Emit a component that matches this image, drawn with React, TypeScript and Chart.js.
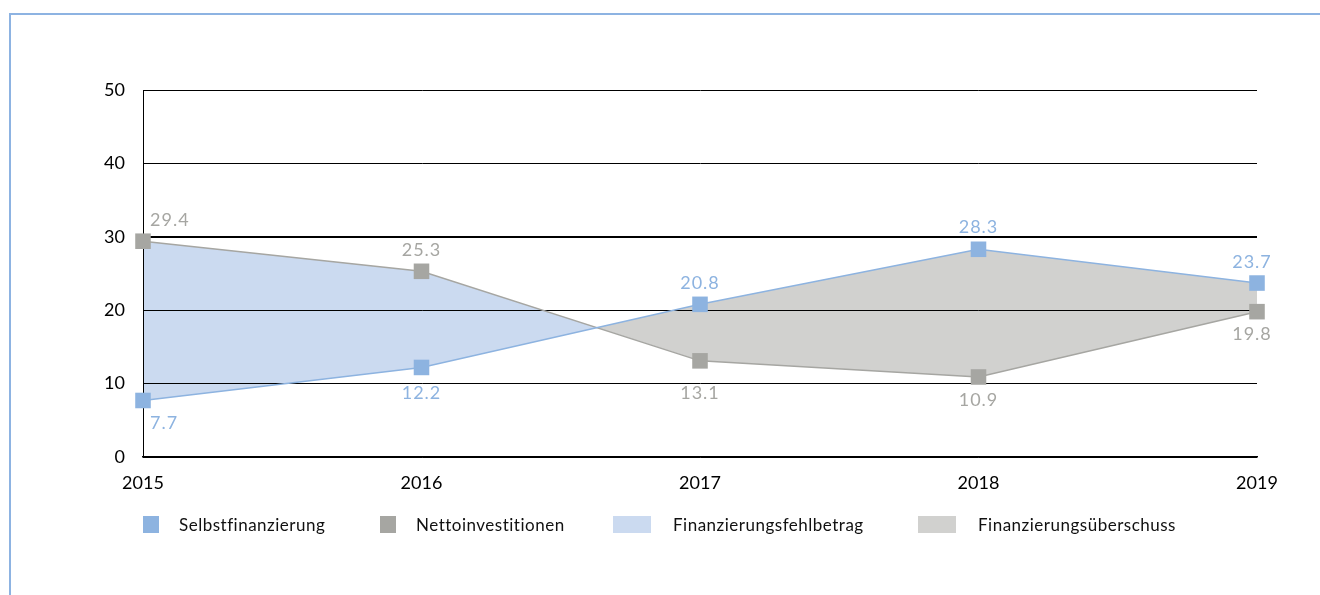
import React, { useEffect, useRef } from "react";
import { Chart, registerables } from "chart.js";

Chart.register(...registerables);

const years = ["2015", "2016", "2017", "2018", "2019"];
const selbstfinanzierung = [7.7, 12.2, 20.8, 28.3, 23.7];
const nettoinvestitionen = [29.4, 25.3, 13.1, 10.9, 19.8];
const yMin = 0;
const yMax = 50;
const yStep = 10;
const seriesNames = ["Selbstfinanzierung", "Nettoinvestitionen"];
const areaNames = ["Finanzierungsfehlbetrag", "Finanzierungsüberschuss"];

const BLUE = "#8db3e0";
const GRAY = "#a6a6a2";
const BLUE_FILL = "#cbdaf0";
const GRAY_FILL = "#d1d1cf";
const FONT = "Lato";

const valueLabels = {
  id: "valueLabels",
  afterDatasetsDraw(chart: any) {
    const ctx = chart.ctx;
    const yScale = chart.scales.y;
    const gridYs = yScale.ticks.map((t: any) => yScale.getPixelForValue(t.value));
    ctx.save();
    ctx.font = `18px ${FONT}`;
    try { (ctx as any).letterSpacing = "1px"; } catch (e) {}
    ctx.textBaseline = "middle";
    const colors = [BLUE, GRAY];
    [0, 1].forEach((di) => {
      const meta = chart.getDatasetMeta(di);
      const vals = chart.data.datasets[di].data as number[];
      const other = chart.data.datasets[1 - di].data as number[];
      meta.data.forEach((pt: any, i: number) => {
        const above = vals[i] >= other[i];
        let x = pt.x;
        let align = "center";
        if (i === 0) {
          align = "left";
          x += 7;
        } else if (i === vals.length - 1) {
          x -= 5;
        }
        let y = pt.y + (above ? -21 : 23);
        const near = gridYs.find((g: number) => Math.abs(g - y) < 10);
        if (near !== undefined) {
          y = above ? near - 10 : near + 10;
        }
        ctx.fillStyle = colors[di];
        ctx.textAlign = align;
        ctx.fillText(vals[i].toFixed(1), x, y);
      });
    });
    ctx.restore();
  },
};

export default function App() {
  const ref = useRef<HTMLCanvasElement | null>(null);

  useEffect(() => {
    if (!ref.current) return;
    const chart = new Chart(ref.current, {
      type: "line",
      data: {
        labels: years,
        datasets: [
          {
            label: seriesNames[0],
            data: selbstfinanzierung,
            borderColor: BLUE,
            backgroundColor: BLUE,
            borderWidth: 1.5,
            pointStyle: "rect",
            pointRadius: 11,
            pointBorderWidth: 0,
            pointBackgroundColor: BLUE,
            tension: 0,
            fill: { target: 1, above: GRAY_FILL, below: BLUE_FILL },
          },
          {
            label: seriesNames[1],
            data: nettoinvestitionen,
            borderColor: GRAY,
            backgroundColor: GRAY,
            borderWidth: 1.5,
            pointStyle: "rect",
            pointRadius: 11,
            pointBorderWidth: 0,
            pointBackgroundColor: GRAY,
            tension: 0,
            fill: false,
          },
        ],
      },
      options: {
        animation: false,
        responsive: false,
        layout: { padding: { left: 0, top: 90, right: 63, bottom: 98 } },
        plugins: {
          legend: { display: false },
          tooltip: { enabled: false },
          filler: { drawTime: "beforeDraw" },
        } as any,
        scales: {
          x: {
            offset: false,
            grid: { display: false, drawTicks: false },
            border: { display: true, color: "#000", width: 1.5 },
            ticks: {
              color: "#000",
              font: { family: FONT, size: 18 },
              padding: 15,
              maxRotation: 0,
            },
            afterFit: (s: any) => {
              s.height = 40;
            },
          },
          y: {
            min: yMin,
            max: yMax,
            grid: {
              color: "#000",
              lineWidth: (c: any) => (c.tick && c.tick.value === 30 ? 2 : 1),
              drawTicks: false,
            },
            border: { display: true, color: "#000", width: 1 },
            ticks: {
              stepSize: yStep,
              color: "#000",
              font: { family: FONT, size: 18 },
              padding: 18,
            },
            afterFit: (s: any) => {
              s.width = 143;
            },
          },
        },
      },
      plugins: [valueLabels],
    });
    return () => chart.destroy();
  }, []);

  const legendItems = [
    { name: seriesNames[0], color: BLUE, w: 16, left: 143 },
    { name: seriesNames[1], color: GRAY, w: 16, left: 380 },
    { name: areaNames[0], color: BLUE_FILL, w: 38, left: 613 },
    { name: areaNames[1], color: GRAY_FILL, w: 38, left: 918 },
  ];

  return (
    <div style={{ position: "fixed", left: 0, top: 0, width: 1320, height: 595, background: "#fff", overflow: "hidden" }}>
      <div
        style={{
          position: "absolute",
          left: 9,
          top: 13,
          right: 0,
          bottom: 0,
          borderLeft: "2px solid #8db3e2",
          borderTop: "2px solid #8db3e2",
        }}
      />
      <canvas ref={ref} width={1320} height={595} style={{ position: "absolute", left: 0, top: 0 }} />
      {legendItems.map((it) => (
        <div
          key={it.name}
          style={{
            position: "absolute",
            left: it.left,
            top: 516,
            height: 17,
            display: "flex",
            alignItems: "center",
            fontFamily: FONT,
            fontSize: 17,
            letterSpacing: "0.5px",
            color: "#111",
            whiteSpace: "nowrap",
          }}
        >
          <span style={{ display: "inline-block", width: it.w, height: 17, background: it.color, marginRight: it.w > 20 ? 22 : 20 }} />
          <span>{it.name}</span>
        </div>
      ))}
    </div>
  );
}
